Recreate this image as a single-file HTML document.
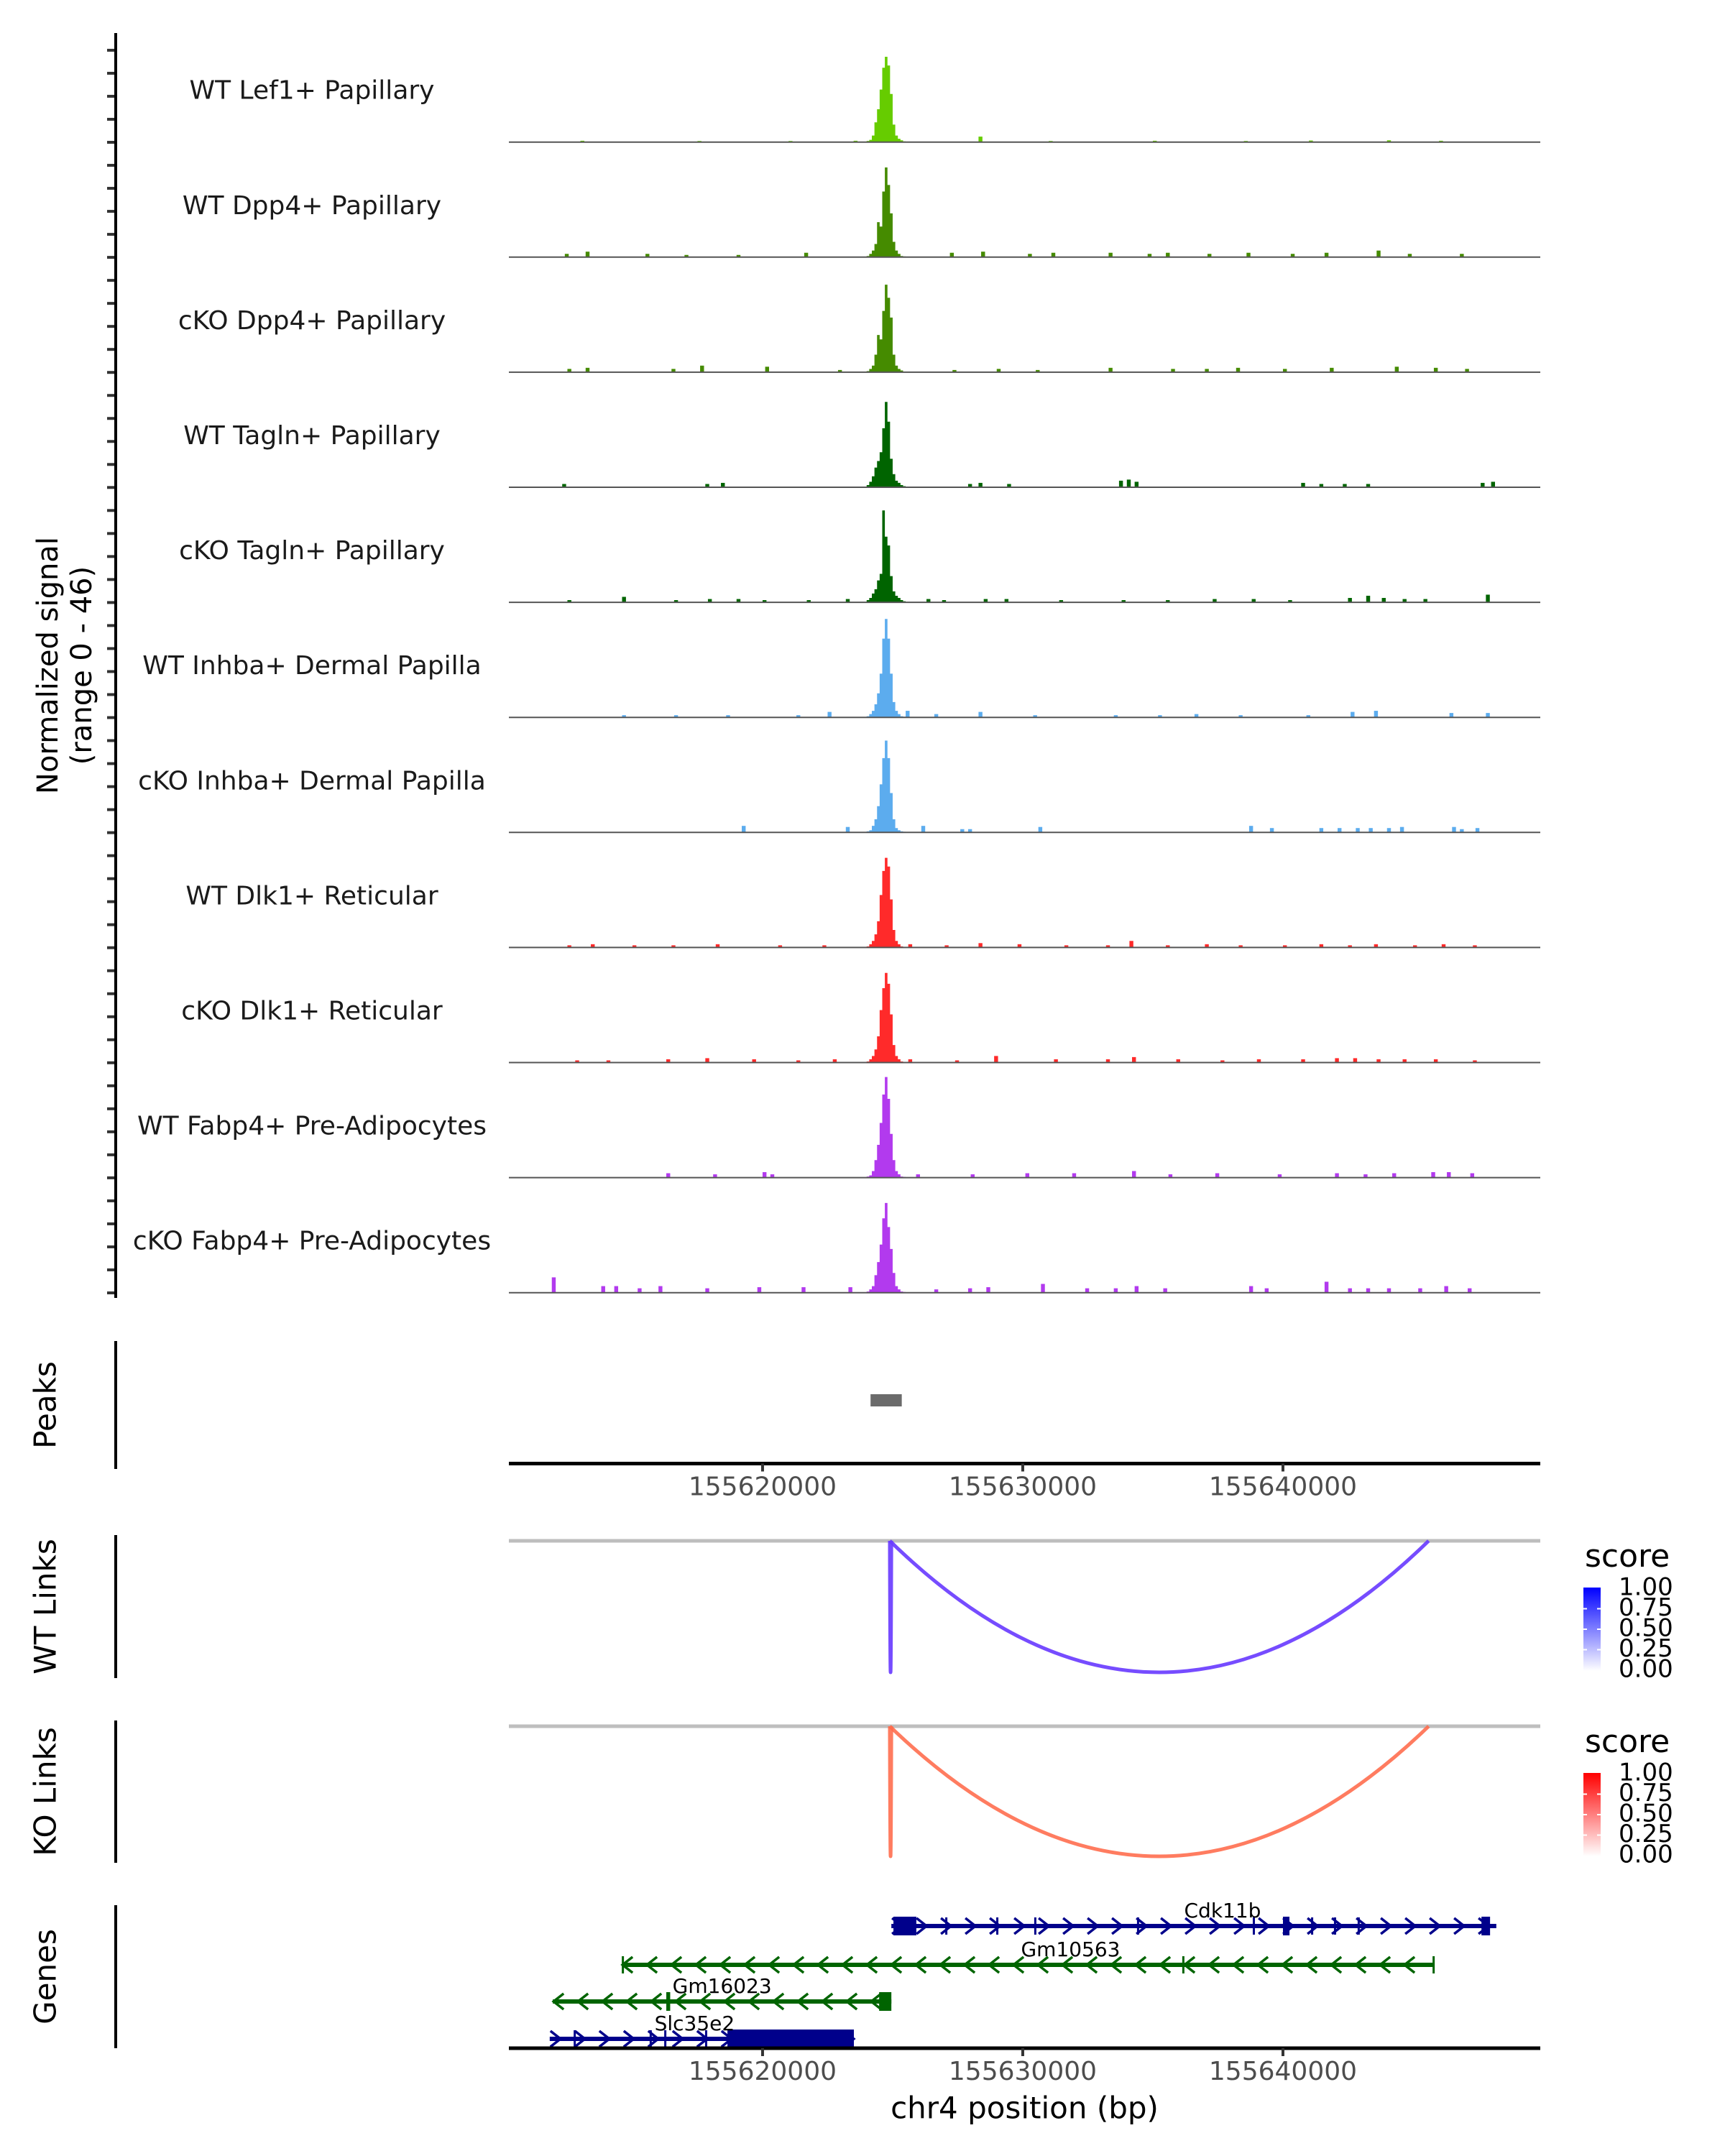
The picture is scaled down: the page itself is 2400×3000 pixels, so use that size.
<!DOCTYPE html>
<html><head><meta charset="utf-8"><style>
html,body{margin:0;padding:0;background:#fff}
svg{display:block}
text{font-family:"DejaVu Sans","Liberation Sans",sans-serif}
</style></head><body>
<svg id="fig" xmlns="http://www.w3.org/2000/svg" width="2400" height="3000" viewBox="0 0 2400 3000">
<rect width="2400" height="3000" fill="#fff"/>
</svg>
<script>
// ---- data ----
const trackNames = ["WT Lef1+ Papillary","WT Dpp4+ Papillary","cKO Dpp4+ Papillary","WT Tagln+ Papillary","cKO Tagln+ Papillary","WT Inhba+ Dermal Papilla","cKO Inhba+ Dermal Papilla","WT Dlk1+ Reticular","cKO Dlk1+ Reticular","WT Fabp4+ Pre-Adipocytes","cKO Fabp4+ Pre-Adipocytes"];
const trackColors = ["#66cc00","#458b00","#458b00","#006400","#006400","#5cacee","#5cacee","#ff2a2a","#ff2a2a","#b23aee","#b23aee"];
// peak bins (kb offset from 155600), 0.1 kb each
const peakBinStart = [24.0,24.1,24.2,24.3,24.4,24.5,24.6,24.7,24.8,24.9,25.0,25.1,25.2,25.3,25.4];
const peakT1 = [0.5,1,3,9,15,24,34,39,35,22,8,3,1.5,0.8,0.3];
const peakT2 = [0.5,1.5,3,6,16,14,30,41,33,20,7,3,1.5,0.5,0.3];
const peakT3 = [0.5,1.5,3,8,17,15,28,40,34,25,8,3,1.5,0.8,0.3];
const peakT4 = [1,2.5,5,9,12,16,27,39,30,13,6,3,2,1,0.5];
const peakT5 = [1,2,4,6,10,13,42,30,26,12,5,3,2,1,0.5];
const peakT6 = [0.5,1.5,3,6,11,20,36,45,36,20,7,3,1.5,0.5,0.3];
const peakT7 = [0.5,1,3,6,12,22,34,42,34,18,6,2,1,0.5,0.3];
const peakT8 = [0.5,1.5,3,6,12,24,35,41,37,22,8,3,1.5,0.5,0.3];
const peakT9 = [0.5,1.5,3,6,12,24,34,41,36,22,8,3,1.5,0.5,0.3];
const peakT10 = [0.5,1,3,8,15,25,38,46,36,20,8,3,1.5,0.5,0.3];
const peakT11 = [0.5,1.5,3,8,14,22,34,41,30,20,9,3,1.5,0.5,0.3];
const peakValues = [peakT1,peakT2,peakT3,peakT4,peakT5,peakT6,peakT7,peakT8,peakT9,peakT10,peakT11];
// background signal positions (kb offset) and values
const noisePosT1 = [13.0,17.5,21.0,23.5,28.3,31.0,35.0,38.5,41.0,44.0,46.0];
const noiseValT1 = [0.6,0.5,0.5,0.6,2.5,0.5,0.6,0.5,0.7,0.8,0.6];
const noisePosT2 = [12.4,13.2,15.5,17.0,19.0,21.6,27.2,28.4,30.2,31.1,33.3,34.8,35.5,37.1,38.6,40.3,41.6,43.6,44.8,46.8];
const noiseValT2 = [1.5,2.5,1.5,1,1,2,2,2.5,1.5,2,2,1.5,2,1.5,2,1.5,2,3,1.5,1.5];
const noisePosT3 = [12.5,13.2,16.5,17.6,20.1,22.9,27.3,29.0,30.5,33.3,35.7,37.0,38.2,40.0,41.8,44.3,45.8,47.0];
const noiseValT3 = [1.5,2,1.5,3,2.5,1,1,1.5,1,2,1.5,1.5,2,1.5,2,2.5,2,1.5];
const noisePosT4 = [12.3,17.8,18.4,27.9,28.3,29.4,33.7,34.0,34.3,40.7,41.4,42.3,43.2,47.6,48.0];
const noiseValT4 = [1.5,1.5,2,1.5,2,1.5,3,3.5,2.5,2,1.5,1.5,1.5,2,2.5];
const noisePosT5 = [12.5,14.6,16.6,17.9,19.0,20.0,21.7,23.2,26.3,26.9,28.5,29.3,31.4,33.8,35.5,37.3,38.8,40.2,42.5,43.2,43.8,44.6,45.4,47.8];
const noiseValT5 = [1,2.5,1,1.5,1.5,1,1,1.5,1.5,1,1.5,1.5,1,1,1,1.5,1.5,1,2,3,2,1.5,1.5,3.5];
const noisePosT6 = [14.6,16.6,18.6,21.3,22.5,25.5,26.6,28.3,30.4,33.5,35.2,36.6,38.3,40.9,42.6,43.5,46.4,47.8];
const noiseValT6 = [1,1,1,1,2.5,3,1.5,2.5,1,1,1,1.5,1,1,2.5,3,2,2];
const noisePosT7 = [19.2,23.2,26.1,27.6,27.9,30.6,38.7,39.5,41.4,42.1,42.8,43.3,44.0,44.5,46.5,46.8,47.4];
const noiseValT7 = [3,2.5,3,1.5,1.5,2.5,3,2,2,2,2,2,2,2.5,2.5,1.5,2];
const noisePosT8 = [12.5,13.4,15.0,16.5,18.2,20.6,22.3,25.6,27.0,28.3,29.8,31.6,33.2,34.1,35.5,37.0,38.3,40.0,41.4,42.5,43.5,45.0,46.1,47.3];
const noiseValT8 = [1,1.5,1,1,1.5,1,1,1.5,1,2,1.5,1,1,3,1,1.5,1,1,1.5,1,1.5,1,1.5,1];
const noisePosT9 = [12.8,14.0,16.3,17.8,19.6,21.3,22.7,25.6,27.4,28.9,31.2,33.2,34.2,35.9,37.6,39.0,40.7,42.0,42.7,43.6,44.6,45.8,47.3];
const noiseValT9 = [1,1,1.5,2,1.5,1,1.5,1.5,1,3,1.5,1.5,2.5,1.5,1,1.5,1.5,2,2,1.5,1.5,1.5,1];
const noisePosT10 = [16.3,18.1,20.0,20.3,25.9,28.0,30.1,31.9,34.2,35.6,37.4,39.8,42.0,43.1,44.2,45.7,46.3,47.2];
const noiseValT10 = [2,1.5,2.5,1.5,1.5,1.5,2,2,3,1.5,2,1.5,2,1.5,2,2.5,2.5,2];
const noisePosT11 = [11.9,13.8,14.3,15.2,16.0,17.8,19.8,21.5,23.3,26.6,27.9,28.6,30.7,32.4,33.5,34.3,35.4,38.7,39.3,41.6,42.5,43.2,44.0,45.2,46.2,47.1];
const noiseValT11 = [7,3,3,2,3,2,2.5,2.5,2.5,1.5,2,2.5,4,2,2,3,2,3,2,5,2,2,2,2,3,2];
const noisePos = [noisePosT1,noisePosT2,noisePosT3,noisePosT4,noisePosT5,noisePosT6,noisePosT7,noisePosT8,noisePosT9,noisePosT10,noisePosT11];
const noiseVal = [noiseValT1,noiseValT2,noiseValT3,noiseValT4,noiseValT5,noiseValT6,noiseValT7,noiseValT8,noiseValT9,noiseValT10,noiseValT11];
const signalMax = 46;
const peakRegions = [[24.15,25.35]];
const xTicks = [155620000,155630000,155640000];
const xTickLabels = ["155620000","155630000","155640000"];
const wtLinkStart = [24.89,24.89];
const wtLinkEnd = [24.95,45.6];
const wtLinkScore = [0.8,0.8];
const koLinkStart = [24.89,24.89];
const koLinkEnd = [24.95,45.6];
const koLinkScore = [0.7,0.7];
const legendTicks = ["1.00","0.75","0.50","0.25","0.00"];
const geneNames = ["Cdk11b","Gm10563","Gm16023","Slc35e2"];
const geneStart = [24.95,14.59,11.94,11.82];
const geneEnd = [48.2,45.77,24.95,23.51];
const geneStrand = [1,-1,-1,1];
const geneColor = ["#00008b","#006400","#006400","#00008b"];
const geneExonStart = [[25.03,27.02,28.98,30.44,34.39,38.84,40.0,41.08,41.96,42.87,47.63],[14.59,36.13,45.75],[16.3,24.48],[12.74,15.66,16.22,17.79,18.65]];
const geneExonEnd = [[25.91,27.05,29.01,30.47,34.42,38.87,40.25,41.11,41.99,42.9,47.96],[14.62,36.16,45.78],[16.45,24.95],[12.77,15.69,16.25,17.82,23.51]];

// ---- scales ----
const X0 = 708, X1 = 2143, KB0 = 10.25, KB1 = 49.89;
const xs = kb => X0 + (kb - KB0) / (KB1 - KB0) * (X1 - X0);
const baseY0 = 197.7, trackStep = 160.1, trackH = 140;
const ys = (i, v) => baseY0 + i * trackStep - v / signalMax * trackH;

const svg = document.getElementById('fig');
const NS = 'http://www.w3.org/2000/svg';
function mk(tag, attrs, parent) {
  const e = document.createElementNS(NS, tag);
  for (const k in attrs) e.setAttribute(k, attrs[k]);
  (parent || svg).appendChild(e);
  return e;
}
function txt(str, attrs, parent) { const t = mk('text', attrs, parent); t.textContent = str; return t; }

// ---- signal tracks ----
const bw = 0.1;
const nw = 0.15;
trackNames.forEach((name, i) => {
  const g = mk('g', {});
  
  
  const base = baseY0 + i * trackStep;
  let d = 'M' + xs(peakBinStart[0]) + ',' + base;
  peakValues[i].forEach((v, j) => {
    const y = ys(i, v);
    d += ' L' + xs(peakBinStart[j]) + ',' + y + ' L' + xs(peakBinStart[j] + bw) + ',' + y;
  });
  d += ' L' + xs(peakBinStart[peakBinStart.length - 1] + bw) + ',' + base + 'Z';
  const p = mk('path', { d: d, fill: trackColors[i] }, g);
  
  
  noisePos[i].forEach((pos, j) => {
    const y = ys(i, noiseVal[i][j]);
    const r = mk('rect', { x: xs(pos), y: y, width: xs(pos + nw) - xs(pos), height: base - y, fill: trackColors[i] }, g);
    
    
  });
  const bl = mk('line', { x1: X0, x2: X1, y1: base, y2: base, stroke: '#555', 'stroke-width': 2 }, g);
  
  
  const lb = txt(name, { x: 434, y: base - 70, 'font-size': 36, 'text-anchor': 'middle', 'dominant-baseline': 'middle', fill: '#1a1a1a' });
  
  
});
const ax = mk('line', { x1: 161, x2: 161, y1: 46, y2: 1806, stroke: '#000', 'stroke-width': 4 });


for (let k = 0; k <= 54; k++) {
  const y = 1799 - k * trackStep / 5;
  const t = mk('line', { x1: 149, x2: 159, y1: y, y2: y, stroke: '#333', 'stroke-width': 4 });
  
  
}
const yt = mk('text', { transform: 'translate(80,926) rotate(-90)', 'font-size': 40, 'text-anchor': 'middle', fill: '#000' });


yt.innerHTML = '<tspan x="0" dy="0">Normalized signal</tspan><tspan x="0" dy="47">(range 0 - 46)</tspan>';

function panelAxis(name, y1, y2, label) {
  const l = mk('line', { x1: 161, x2: 161, y1: y1, y2: y2, stroke: '#000', 'stroke-width': 4 });
  
  
  const t = txt(label, { transform: 'translate(66,' + (y1 + y2) / 2 + ') rotate(-90)', 'font-size': 42, 'text-anchor': 'middle', 'dominant-baseline': 'middle', fill: '#000' });
  
  
}
panelAxis('peaks', 1866, 2044, 'Peaks');
panelAxis('wt-links', 2136, 2335, 'WT Links');
panelAxis('ko-links', 2394, 2592, 'KO Links');
panelAxis('genes', 2651, 2850, 'Genes');

peakRegions.forEach(r => {
  const e = mk('rect', { x: xs(r[0]), y: 1940, width: xs(r[1]) - xs(r[0]), height: 17, fill: '#6b6b6b' });
  
  
});
function xAxis(y, name) {
  const l = mk('line', { x1: X0, x2: X1, y1: y, y2: y, stroke: '#000', 'stroke-width': 5 });
  
  
  xTicks.forEach((t, j) => {
    const x = xs(t / 1000 - 155600);
    const tk = mk('line', { x1: x, x2: x, y1: y, y2: y + 11, stroke: '#333', 'stroke-width': 4 });
    
    
    const tl = txt(xTickLabels[j], { x: x, y: y + 34, 'font-size': 36, 'text-anchor': 'middle', 'dominant-baseline': 'middle', fill: '#4d4d4d' });
    
    
  });
}
xAxis(2036.5, 'peaks-x-axis');

function linkPanel(topY, depth, starts, ends, scores, color, name, gradId, legendY) {
  const gl = mk('line', { x1: X0, x2: X1, y1: topY, y2: topY, stroke: '#bebebe', 'stroke-width': 5 });
  
  
  starts.forEach((s, j) => {
    const a = xs(s), b = xs(ends[j]);
    const cy = topY + depth * 2;
    const p = mk('path', { d: 'M' + a + ',' + topY + ' Q' + (a + b) / 2 + ',' + cy + ' ' + b + ',' + topY, fill: 'none', stroke: color, 'stroke-width': 5, 'stroke-opacity': 0.6 + 0.4 * scores[j] });
    
    
  });
  const defs = mk('defs', {});
  const lg = mk('linearGradient', { id: gradId, x1: 0, y1: 1, x2: 0, y2: 0 }, defs);
  mk('stop', { offset: 0, 'stop-color': '#ffffff' }, lg);
  mk('stop', { offset: 1, 'stop-color': gradId === 'gwt' ? '#0000ff' : '#ff0000' }, lg);
  const st = txt('score', { x: 2205, y: legendY, 'font-size': 44, fill: '#000' });
  
  
  const bar = mk('rect', { x: 2203, y: legendY + 29, width: 24, height: 116, fill: 'url(#' + gradId + ')' });
  
  
  legendTicks.forEach((lab, k) => {
    const y = legendY + 30 + k * 28.5;
    if (k > 0 && k < 4) {
      mk('line', { x1: 2203, x2: 2208, y1: y, y2: y, stroke: '#fff', 'stroke-width': 2 });
      mk('line', { x1: 2222, x2: 2227, y1: y, y2: y, stroke: '#fff', 'stroke-width': 2 });
    }
    const t = txt(lab, { x: 2252, y: y, 'font-size': 34, 'dominant-baseline': 'middle', fill: '#000' });
    
    
  });
}
linkPanel(2144, 183, wtLinkStart, wtLinkEnd, wtLinkScore, '#6a3dff', 'wt-links', 'gwt', 2180);
linkPanel(2402, 181, koLinkStart, koLinkEnd, koLinkScore, '#ff6a4a', 'ko-links', 'gko', 2438);

const geneY = [2680, 2734, 2785, 2837];
geneNames.forEach((gname, i) => {
  const g = mk('g', {});
  
  
  const y = geneY[i], c = geneColor[i];
  const a = xs(geneStart[i]), b = xs(geneEnd[i]);
  mk('line', { x1: a, x2: b, y1: y, y2: y, stroke: c, 'stroke-width': 6 }, g);
  for (let x = a + 8; x <= b - 4; x += 34) {
    const dx = 7 * geneStrand[i];
    mk('polyline', { points: (x - dx) + ',' + (y - 11) + ' ' + (x + dx) + ',' + y + ' ' + (x - dx) + ',' + (y + 11), fill: 'none', stroke: c, 'stroke-width': 3.5 }, g);
  }
  geneExonStart[i].forEach((s, k) => {
    const e = geneExonEnd[i][k];
    const big = (e - s) > 0.1;
    const r = mk('rect', { x: xs(s), y: y - (big ? 13 : 12), width: Math.max(xs(e) - xs(s), 3), height: big ? 26 : 24, fill: c }, g);
    
    
  });
  const lt = txt(gname, { x: (a + b) / 2 + (i === 0 ? 40 : i === 1 ? 60 : i === 2 ? 0 : -10), y: y - 12, 'font-size': 28, 'text-anchor': 'middle', fill: '#000' }, g);
  
  
});
xAxis(2850, 'genes-x-axis');
const xt = txt('chr4 position (bp)', { x: (X0 + X1) / 2, y: 2936, 'font-size': 42, 'text-anchor': 'middle', 'dominant-baseline': 'middle', fill: '#000' });


</script>
</body></html>
